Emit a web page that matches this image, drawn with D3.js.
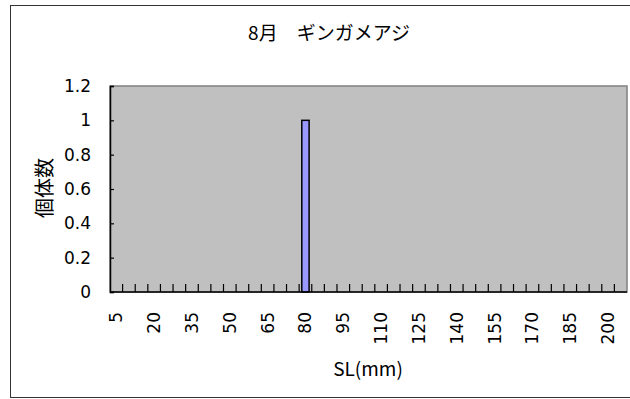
<!DOCTYPE html>
<html>
<head>
<meta charset="utf-8">
<script src="https://cdn.jsdelivr.net/npm/d3@7"></script>
<style>
  html, body { margin: 0; padding: 0; background: #fff; }
  svg { display: block; }
</style>
</head>
<body>
<svg id="chart" width="630" height="399"></svg>
<script>
// Length classes (SL, mm) and fish counts for each class
const sizeClasses = [5, 10, 15, 20, 25, 30, 35, 40, 45, 50, 55, 60, 65, 70, 75, 80, 85, 90, 95, 100,
  105, 110, 115, 120, 125, 130, 135, 140, 145, 150, 155, 160, 165, 170, 175, 180, 185, 190, 195, 200, 205];
const counts = [0, 0, 0, 0, 0, 0, 0, 0, 0, 0, 0, 0, 0, 0, 0, 1, 0, 0, 0, 0,
  0, 0, 0, 0, 0, 0, 0, 0, 0, 0, 0, 0, 0, 0, 0, 0, 0, 0, 0, 0, 0];
const xLabelClasses = [5, 20, 35, 50, 65, 80, 95, 110, 125, 140, 155, 170, 185, 200];
const yTicks = [0, 0.2, 0.4, 0.6, 0.8, 1, 1.2];

const titleText = "8月　ギンガメアジ";
const xTitle = "SL(mm)";
const yTitle = "個体数";

const svg = d3.select("#chart");
const jpFont = "'Noto Sans CJK JP', sans-serif";
const numFont = "'DejaVu Sans', sans-serif";

const plot = { left: 110, top: 86, right: 627, bottom: 292 };

// Chart frame
svg.append("rect")
  .attr("x", 10.5).attr("y", 5.5)
  .attr("width", 640).attr("height", 392)
  .attr("fill", "#fff").attr("stroke", "#333").attr("stroke-width", 1);

const x = d3.scaleBand()
  .domain(sizeClasses)
  .range([plot.left, plot.right])
  .paddingInner(0.42).paddingOuter(0.21);

const xBand = d3.scaleBand()
  .domain(sizeClasses)
  .range([plot.left, plot.right]);

const y = d3.scaleLinear().domain([0, 1.2]).range([plot.bottom, plot.top]);

// Plot area
svg.append("rect")
  .attr("x", plot.left).attr("y", plot.top)
  .attr("width", plot.right - plot.left).attr("height", plot.bottom - plot.top)
  .attr("fill", "#c0c0c0").attr("stroke", "#808080").attr("stroke-width", 1.5);

// Bars
svg.append("g").selectAll("rect")
  .data(sizeClasses.map((c, i) => ({ c, v: counts[i] })).filter(d => d.v > 0))
  .join("rect")
  .attr("x", d => x(d.c))
  .attr("y", d => y(d.v))
  .attr("width", x.bandwidth())
  .attr("height", d => y(0) - y(d.v))
  .attr("fill", "#9999ff")
  .attr("stroke", "#000")
  .attr("stroke-width", 1.5);

// Y axis
const yAxis = d3.axisLeft(y).tickValues(yTicks).tickSize(-4).tickPadding(19)
  .tickFormat(d3.format("~g"));
const gy = svg.append("g").attr("transform", `translate(${plot.left},0)`).call(yAxis);
gy.select(".domain").attr("stroke", "#000").attr("stroke-width", 1.5);
gy.selectAll(".tick line").attr("stroke", "#000").attr("stroke-width", 1.2);
gy.selectAll(".tick text")
  .attr("font-family", numFont).attr("font-size", 17).attr("fill", "#000");

// X axis: tick marks on category boundaries, pointing up into the plot
const boundaries = sizeClasses.slice(1).map(c => xBand(c));
svg.append("g").selectAll("line")
  .data(boundaries)
  .join("line")
  .attr("x1", d => d).attr("x2", d => d)
  .attr("y1", plot.bottom).attr("y2", plot.bottom - 8)
  .attr("stroke", "#000").attr("stroke-width", 1.2);
svg.append("line")
  .attr("x1", plot.left).attr("x2", plot.right)
  .attr("y1", plot.bottom).attr("y2", plot.bottom)
  .attr("stroke", "#000").attr("stroke-width", 1.5);

// X tick labels, rotated
svg.append("g").selectAll("text")
  .data(xLabelClasses)
  .join("text")
  .attr("transform", d => `translate(${xBand(d) + xBand.bandwidth() / 2 + 6},312) rotate(-90)`)
  .attr("text-anchor", "end")
  .attr("font-family", numFont).attr("font-size", 17).attr("fill", "#000")
  .text(d => d);

// Titles
svg.append("text")
  .attr("x", 329).attr("y", 40)
  .attr("text-anchor", "middle")
  .attr("font-family", jpFont).attr("font-size", 19).attr("fill", "#000")
  .text(titleText);

svg.append("text")
  .attr("x", 368).attr("y", 376)
  .attr("text-anchor", "middle")
  .attr("font-family", jpFont).attr("font-size", 19).attr("fill", "#000")
  .text(xTitle);

svg.append("text")
  .attr("transform", "translate(52,188) rotate(-90)")
  .attr("text-anchor", "middle")
  .attr("font-family", jpFont).attr("font-size", 20).attr("fill", "#000")
  .text(yTitle);
</script>
</body>
</html>
